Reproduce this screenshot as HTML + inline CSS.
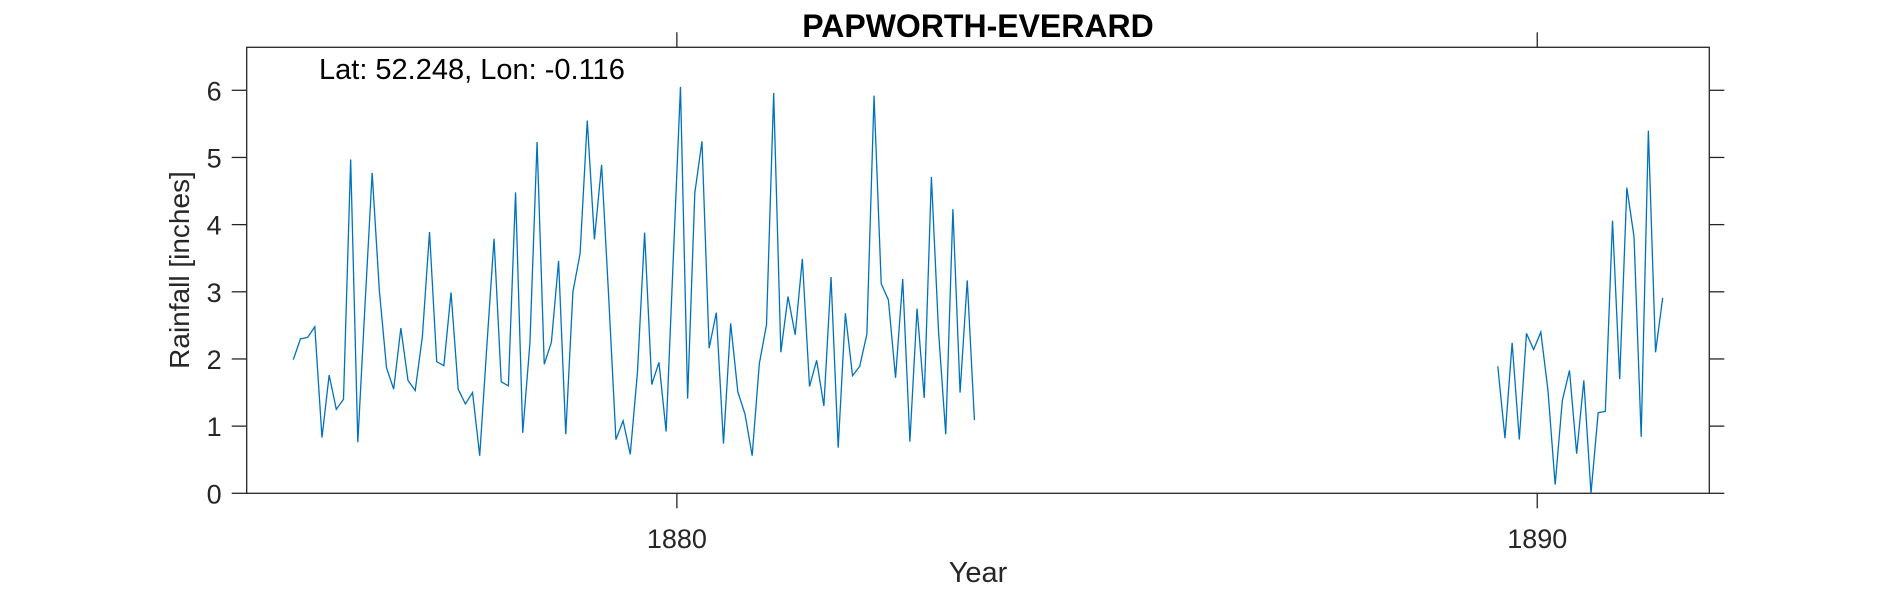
<!DOCTYPE html>
<html><head><meta charset="utf-8"><style>
html,body{margin:0;padding:0;background:#fff;}
svg{display:block;font-family:"Liberation Sans",Arial,sans-serif;}
</style></head><body>
<svg id="chart" width="1890" height="591" viewBox="0 0 1890 591">
<text x="978" y="37" text-anchor="middle" font-size="32" font-weight="bold" fill="#000">PAPWORTH-EVERARD</text>
<text x="319" y="79" font-size="29" fill="#000">Lat: 52.248, Lon: -0.116</text>
<text x="978" y="582" text-anchor="middle" font-size="29" fill="#262626">Year</text>
<text transform="translate(189,270) rotate(-90)" text-anchor="middle" font-size="28" fill="#262626">Rainfall [inches]</text>
<g id="axes"></g>
<g id="series"></g>
</svg>
<script>
const xTicks = [1880, 1890];
const yTicks = [0, 1, 2, 3, 4, 5, 6];
const seg1Start = 1875 + 6.5 / 12;
const seg1Values = [1.99,2.30,2.32,2.48,0.83,1.76,1.25,1.40,4.97,0.76,2.8,4.77,3.02,1.87,1.55,2.46,1.68,1.53,2.33,3.89,1.96,1.90,2.99,1.55,1.33,
1.50,0.56,2.2,3.79,1.66,1.60,4.48,0.90,2.23,5.23,1.92,2.25,3.46,0.88,3.0,3.57,5.55,3.78,4.89,2.9,0.80,1.08,0.58,1.8,
3.88,1.62,1.95,0.92,3.5,6.05,1.41,4.47,5.24,2.16,2.69,0.74,2.53,1.51,1.18,0.56,1.93,2.51,5.96,2.10,2.93,2.36,3.49,1.59,1.98,
1.30,3.22,0.68,2.68,1.75,1.89,2.37,5.92,3.12,2.88,1.72,3.19,0.77,2.75,1.42,4.71,2.4,0.88,4.23,1.50,3.17,1.09];
const seg2Start = 1889 + 6.5 / 12;
const seg2Values = [1.89,0.82,2.24,0.80,2.38,2.14,2.40,1.53,0.13,1.38,1.83,0.59,1.68,0.00,1.20,1.22,4.06,1.70,4.55,3.82,0.84,5.40,2.10,2.91];

const L = 246.7, R = 1709.3, T = 47.3, B = 493.3;
const xMin = 1875, xMax = 1892, yMin = 0, yMax = 6.64;
const xs = v => L + (v - xMin) / (xMax - xMin) * (R - L);
const ys = v => B - (v - yMin) / (yMax - yMin) * (B - T);
const NS = "http://www.w3.org/2000/svg";
const axes = document.getElementById('axes');
const series = document.getElementById('series');
function mk(tag, attrs, parent){const e=document.createElementNS(NS,tag);for(const k in attrs)e.setAttribute(k,attrs[k]);parent.appendChild(e);return e;}

const box = mk('rect',{x:L,y:T,width:R-L,height:B-T,fill:'none',stroke:'#262626','stroke-width':1.3},axes);



yTicks.forEach(v=>{
  const y = ys(v);
  const t1 = mk('line',{x1:L-15,x2:L,y1:y,y2:y,stroke:'#262626','stroke-width':1.3},axes);
  
  
  const t2 = mk('line',{x1:R,x2:R+15,y1:y,y2:y,stroke:'#262626','stroke-width':1.3},axes);
  
  
  const lb = mk('text',{x:L-25,y:y+10,'text-anchor':'end','font-size':27,fill:'#262626'},axes);
  lb.textContent = v;
  
  
});
xTicks.forEach(v=>{
  const x = xs(v);
  const t1 = mk('line',{x1:x,x2:x,y1:B,y2:B+15,stroke:'#262626','stroke-width':1.3},axes);
  
  
  const t2 = mk('line',{x1:x,x2:x,y1:T-15,y2:T,stroke:'#262626','stroke-width':1.3},axes);
  
  
  const lb = mk('text',{x:x,y:548,'text-anchor':'middle','font-size':27,fill:'#262626'},axes);
  lb.textContent = v;
  
  
});

function drawSeg(start, vals, name){
  const pts = vals.map((v,i)=>xs(start + i/12).toFixed(2)+','+ys(v).toFixed(2)).join(' ');
  const pl = mk('polyline',{points:pts,fill:'none',stroke:'#0072BD','stroke-width':1.3,'stroke-linejoin':'miter'},series);
  
  
}
drawSeg(seg1Start, seg1Values, 'rainfall-line-1875-1883');
drawSeg(seg2Start, seg2Values, 'rainfall-line-1889-1891');
</script>
</body></html>
